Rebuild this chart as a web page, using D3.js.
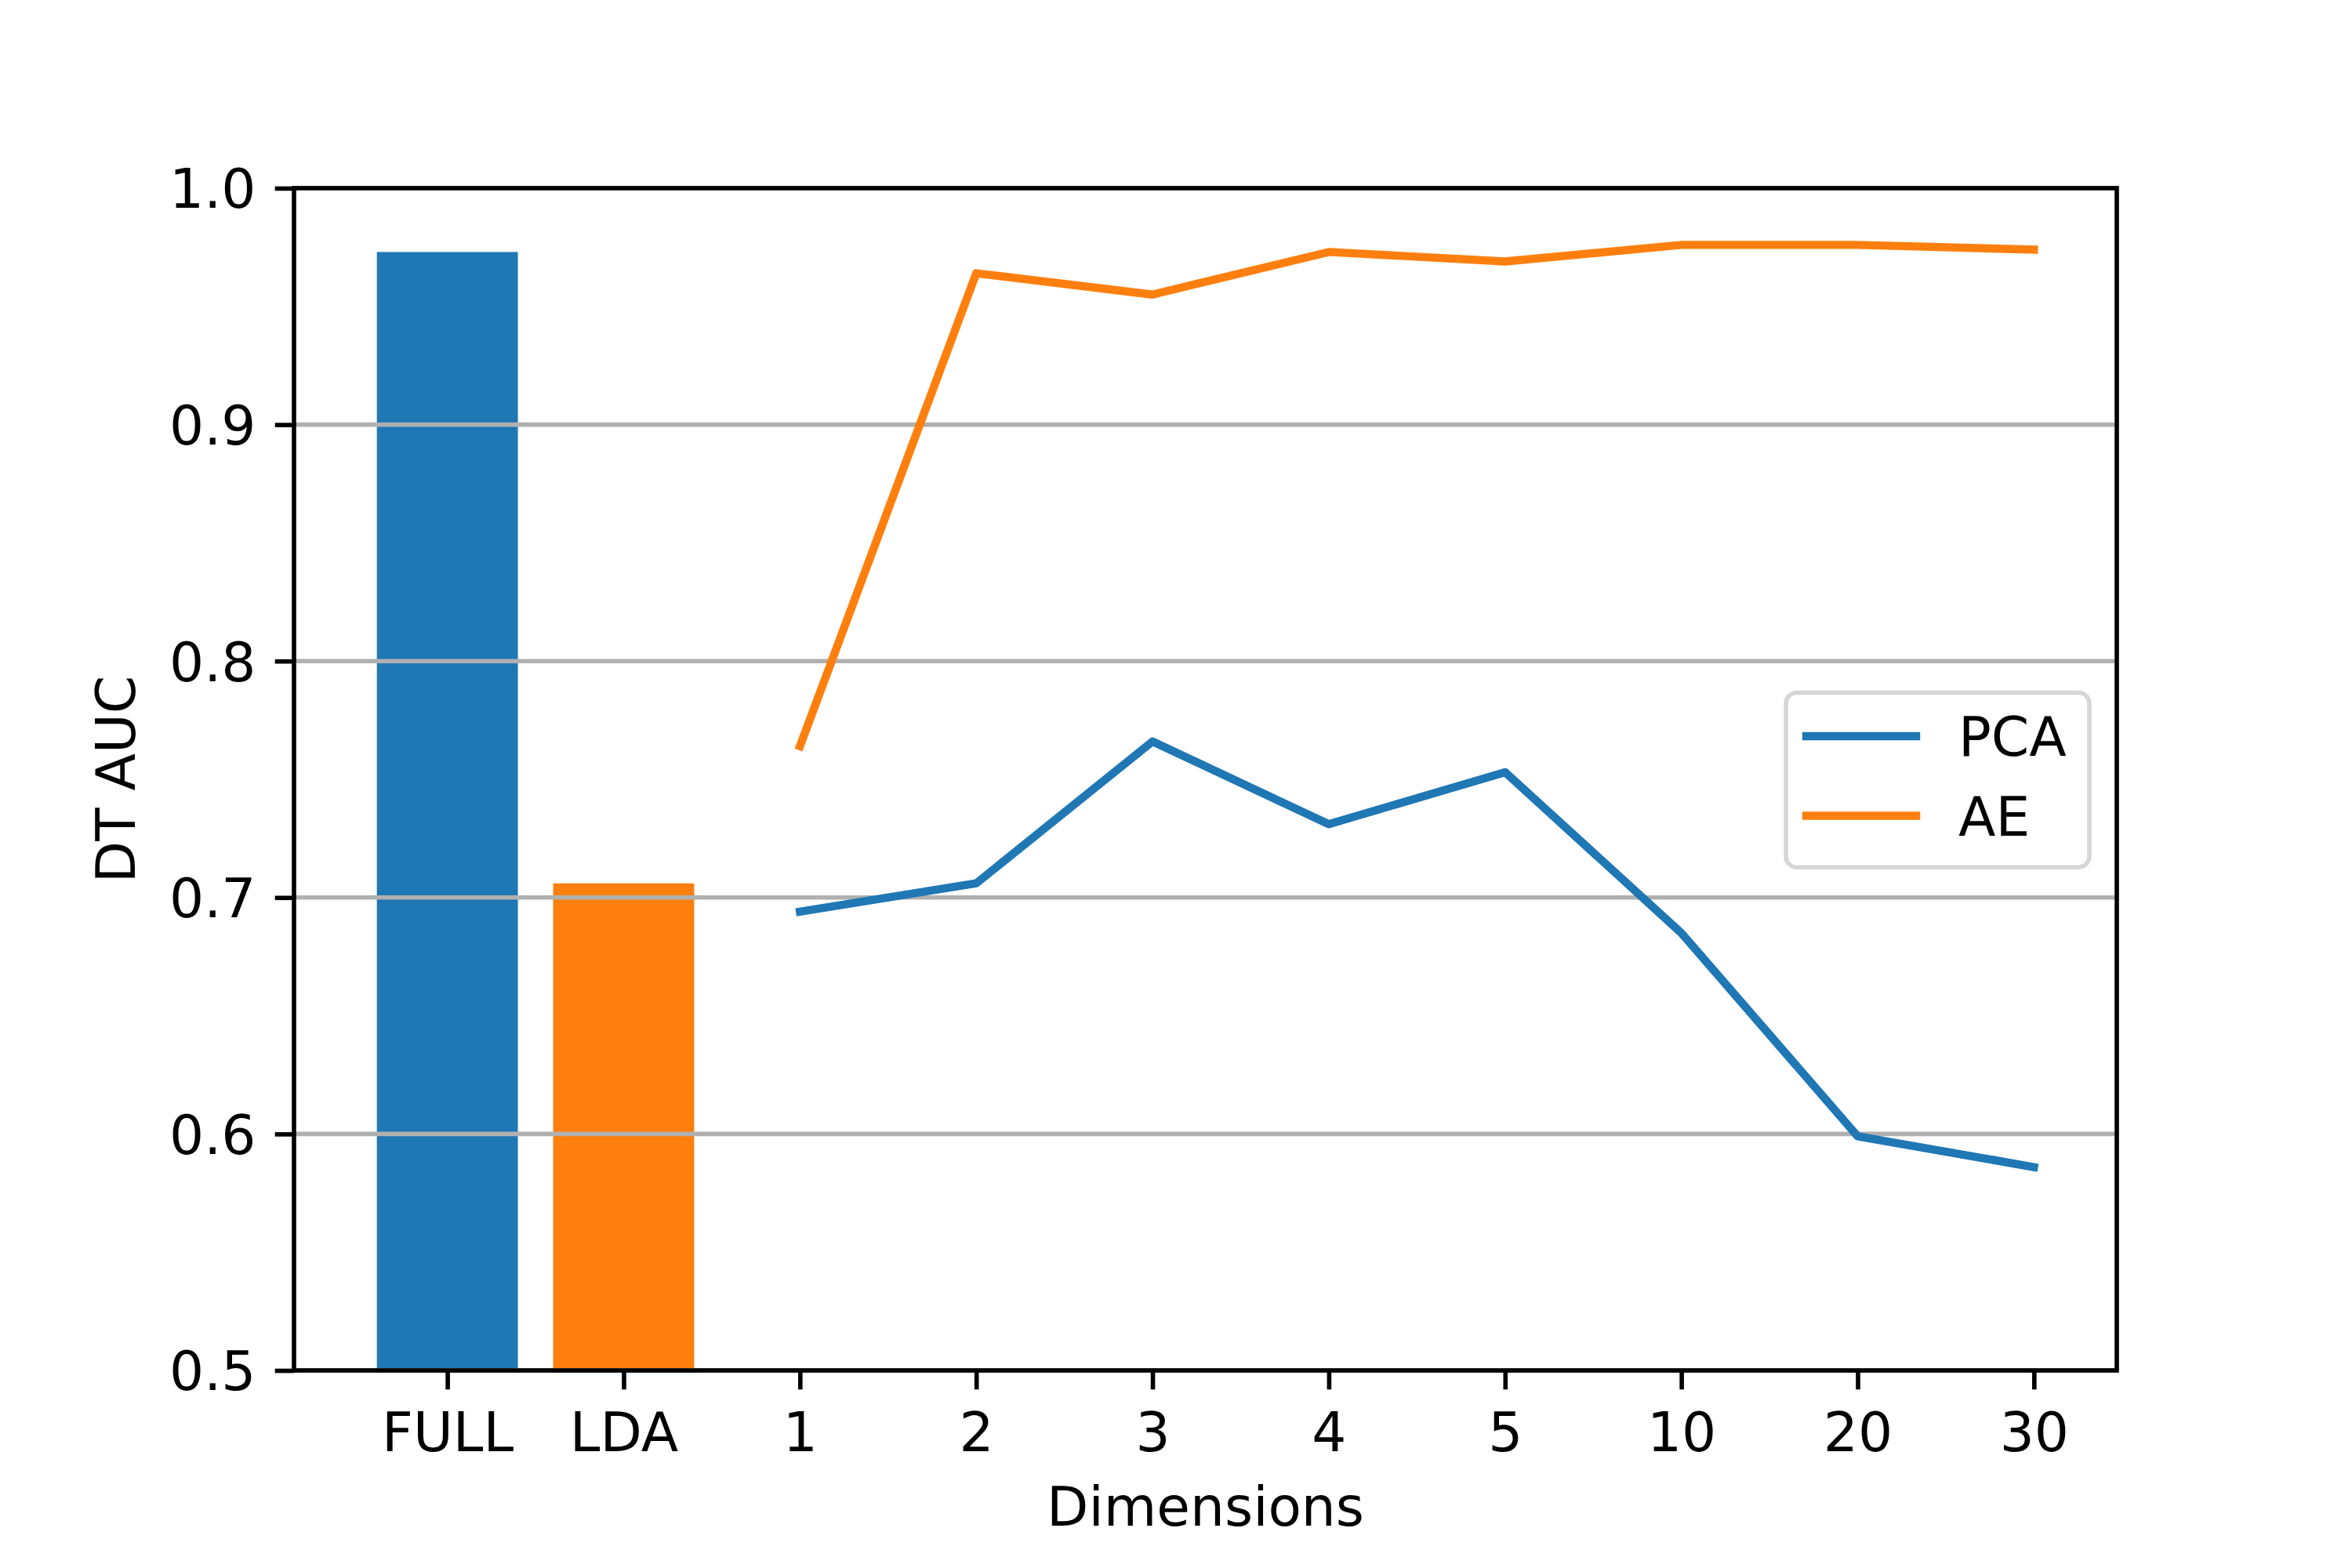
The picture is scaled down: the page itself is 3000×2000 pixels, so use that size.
<!DOCTYPE html>
<html>
<head>
<meta charset="UTF-8">
<title>DT AUC vs Dimensions</title>
<script src="https://d3js.org/d3.v7.min.js"></script>
<style>
  body { margin: 0; background: #fff; }
  svg text { font-family: "DejaVu Sans", sans-serif; }
</style>
</head>
<body>
<svg width="3000" height="2000"></svg>
<script>

// DATA

var categories = ["FULL", "LDA", "1", "2", "3", "4", "5", "10", "20", "30"];
var barNames = ["FULL", "LDA"];
var barValues = [0.973, 0.706];
var lineDims = ["1", "2", "3", "4", "5", "10", "20", "30"];
var pcaValues = [0.694, 0.706, 0.766, 0.731, 0.753, 0.685, 0.599, 0.586];
var aeValues = [0.764, 0.964, 0.955, 0.973, 0.969, 0.976, 0.976, 0.974];
var yTicks = [0.5, 0.6, 0.7, 0.8, 0.9, 1.0];
var seriesNames = ["PCA", "AE"];
var colors = ["#1f77b4", "#ff7f0e"];

// SETUP

var svg = d3.select("svg"),
  plot = { left: 375, right: 2700, top: 240, bottom: 1748 },
  fontSize = 69.4,
  tickLen = 24.3;

svg.append("rect").attr("width", 3000).attr("height", 2000).attr("fill", "#fff");

var x = d3.scaleLinear().domain([-0.87, 9.47]).range([plot.left, plot.right]);
var y = d3.scaleLinear().domain([0.5, 1.0]).range([plot.bottom, plot.top]);

svg.append("clipPath").attr("id", "plot-area")
  .append("rect")
  .attr("x", plot.left).attr("y", plot.top)
  .attr("width", plot.right - plot.left).attr("height", plot.bottom - plot.top);

// BARS (under grid)

svg.append("g").attr("clip-path", "url(#plot-area)")
  .selectAll("rect")
  .data(barNames)
  .enter().append("rect")
  .attr("x", function (d) { return x(categories.indexOf(d) - 0.4); })
  .attr("width", x(0.8) - x(0))
  .attr("y", function (d, i) { return y(barValues[i]); })
  .attr("height", function (d, i) { return y(0) - y(barValues[i]); })
  .attr("fill", function (d, i) { return colors[i]; });

// GRID

svg.append("g")
  .selectAll("line")
  .data(yTicks)
  .enter().append("line")
  .attr("x1", plot.left).attr("x2", plot.right)
  .attr("y1", function (d) { return y(d); })
  .attr("y2", function (d) { return y(d); })
  .attr("stroke", "#b0b0b0")
  .attr("stroke-width", 5.6);

// LINES

var line = d3.line()
  .x(function (d) { return x(categories.indexOf(d.dim)); })
  .y(function (d) { return y(d.v); });

[pcaValues, aeValues].forEach(function (vals, k) {
  var pts = lineDims.map(function (dim, i) { return { dim: dim, v: vals[i] }; });
  svg.append("path")
    .datum(pts)
    .attr("d", line)
    .attr("fill", "none")
    .attr("stroke", colors[k])
    .attr("stroke-width", 10.4)
    .attr("stroke-linejoin", "round")
    .attr("stroke-linecap", "square");
});

// AXES

var xAxis = svg.append("g")
  .attr("transform", "translate(0," + plot.bottom + ")")
  .call(d3.axisBottom(x)
    .tickValues(d3.range(categories.length))
    .tickFormat(function (i) { return categories[i]; })
    .tickSize(tickLen).tickSizeOuter(0))
  .attr("font-size", fontSize)
  .attr("font-family", "DejaVu Sans, sans-serif");
xAxis.select(".domain").remove();
xAxis.selectAll("line").attr("stroke", "#000").attr("stroke-width", 5.6);
xAxis.selectAll("text").attr("y", 103).attr("dy", null).attr("fill", "#000");

var yAxis = svg.append("g")
  .attr("transform", "translate(" + plot.left + ",0)")
  .call(d3.axisLeft(y)
    .tickValues(yTicks)
    .tickFormat(d3.format(".1f"))
    .tickSize(tickLen).tickSizeOuter(0))
  .attr("font-size", fontSize)
  .attr("font-family", "DejaVu Sans, sans-serif");
yAxis.select(".domain").remove();
yAxis.selectAll("line").attr("stroke", "#000").attr("stroke-width", 5.6);
yAxis.selectAll("text").attr("x", -48.6).attr("dy", "0.36em").attr("fill", "#000");

// spines
svg.append("rect")
  .attr("x", plot.left).attr("y", plot.top)
  .attr("width", plot.right - plot.left).attr("height", plot.bottom - plot.top)
  .attr("fill", "none")
  .attr("stroke", "#000")
  .attr("stroke-width", 5.6);

// axis labels
svg.append("text")
  .attr("x", (plot.left + plot.right) / 2).attr("y", 1946)
  .attr("text-anchor", "middle")
  .attr("font-size", fontSize)
  .text("Dimensions");

svg.append("text")
  .attr("transform", "translate(172," + (plot.top + plot.bottom) / 2 + ") rotate(-90)")
  .attr("text-anchor", "middle")
  .attr("font-size", fontSize)
  .text("DT AUC");

// LEGEND

var legend = svg.append("g");
legend.append("rect")
  .attr("x", 2278).attr("y", 883.5)
  .attr("width", 387).attr("height", 222.7)
  .attr("rx", 14).attr("ry", 14)
  .attr("fill", "#fff").attr("fill-opacity", 0.8)
  .attr("stroke", "#cccccc").attr("stroke-opacity", 0.8)
  .attr("stroke-width", 5.6);

var items = legend.selectAll("g.item")
  .data(seriesNames)
  .enter().append("g")
  .attr("class", "item")
  .attr("transform", function (d, i) { return "translate(0," + (939 + i * 101.5) + ")"; });

items.append("line")
  .attr("x1", 2304).attr("x2", 2444)
  .attr("stroke", function (d, i) { return colors[i]; })
  .attr("stroke-width", 10.4)
  .attr("stroke-linecap", "square");

items.append("text")
  .attr("x", 2498).attr("y", 25)
  .attr("font-size", fontSize)
  .text(function (d) { return d; });

</script>
</body>
</html>
